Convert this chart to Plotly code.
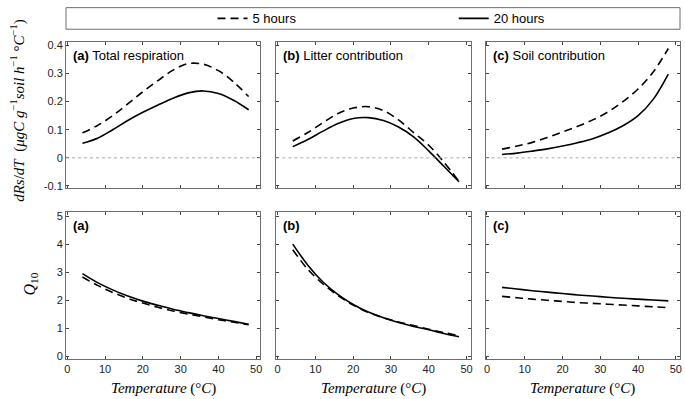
import plotly.graph_objects as go
from plotly.subplots import make_subplots

temperature = [4, 8, 12, 16, 20, 24, 28, 32, 36, 40, 44, 48]

# dRs/dT
total_5h = [0.089, 0.115, 0.150, 0.192, 0.235, 0.275, 0.312, 0.335, 0.333, 0.310, 0.270, 0.218]
total_20h = [0.052, 0.070, 0.100, 0.133, 0.162, 0.188, 0.212, 0.231, 0.238, 0.229, 0.205, 0.171]
litter_5h = [0.060, 0.090, 0.125, 0.158, 0.177, 0.182, 0.168, 0.135, 0.090, 0.045, -0.015, -0.084]
litter_20h = [0.040, 0.065, 0.095, 0.122, 0.140, 0.143, 0.133, 0.110, 0.075, 0.025, -0.030, -0.085]
soil_5h = [0.031, 0.042, 0.055, 0.072, 0.092, 0.112, 0.135, 0.163, 0.200, 0.245, 0.305, 0.389]
soil_20h = [0.012, 0.017, 0.024, 0.032, 0.042, 0.054, 0.068, 0.088, 0.114, 0.150, 0.208, 0.298]

# Q10
q10_total_5h = [2.83, 2.53, 2.28, 2.07, 1.90, 1.75, 1.62, 1.51, 1.41, 1.31, 1.22, 1.13]
q10_total_20h = [2.95, 2.63, 2.37, 2.15, 1.97, 1.82, 1.68, 1.56, 1.45, 1.35, 1.25, 1.15]
q10_litter_5h = [3.80, 3.10, 2.58, 2.17, 1.83, 1.57, 1.38, 1.23, 1.10, 0.97, 0.85, 0.74]
q10_litter_20h = [4.00, 3.25, 2.65, 2.20, 1.85, 1.58, 1.38, 1.21, 1.07, 0.95, 0.82, 0.70]
q10_soil_5h = [2.14, 2.09, 2.04, 2.00, 1.96, 1.92, 1.89, 1.86, 1.83, 1.80, 1.77, 1.74]
q10_soil_20h = [2.46, 2.40, 2.34, 2.29, 2.24, 2.19, 2.15, 2.11, 2.07, 2.04, 2.01, 1.98]

series_names = ["5 hours", "20 hours"]
top_titles = ["<b>(a)</b> Total respiration", "<b>(b)</b> Litter contribution", "<b>(c)</b> Soil contribution"]
bottom_titles = ["<b>(a)</b>", "<b>(b)</b>", "<b>(c)</b>"]
x_ticks = [0, 10, 20, 30, 40, 50]
top_ticks = [-0.1, 0, 0.1, 0.2, 0.3, 0.4]
bottom_ticks = [0, 1, 2, 3, 4, 5]

top_data = [(total_5h, total_20h), (litter_5h, litter_20h), (soil_5h, soil_20h)]
bottom_data = [(q10_total_5h, q10_total_20h), (q10_litter_5h, q10_litter_20h), (q10_soil_5h, q10_soil_20h)]

W, H = 685, 399
ml, mr, mt, mb = 66, 3, 36, 40
pw, ph = W - ml - mr, H - mt - mb

def px_x(p):
    return (p - ml) / pw

def px_y(p):
    return (H - mb - p) / ph

def clamp(v):
    return min(1.0, max(0.0, v))

fig = make_subplots(rows=2, cols=3)
FONT = "Liberation Sans, Arial, sans-serif"
SERIF = "Liberation Serif, Times New Roman, serif"
dashes = ["8px,5px", "solid"]
legends = ["legend", "legend2"]

for c in range(3):
    for r, data in ((1, top_data), (2, bottom_data)):
        for k in range(2):
            fig.add_trace(go.Scatter(
                x=temperature, y=data[c][k], mode="lines",
                line=dict(color="black", width=1.6, dash=dashes[k], shape="spline", smoothing=1.0),
                name=series_names[k], showlegend=(r == 1 and c == 0), legend=legends[k],
            ), row=r, col=c + 1)

xdom = [(clamp(px_x(66)), clamp(px_x(261))), (px_x(277), px_x(472)), (px_x(487), clamp(px_x(682)))]
ydom_top = (px_y(185), clamp(px_y(36)))
ydom_bot = (clamp(px_y(359)), px_y(209.3))

axis_common = dict(
    showline=True, mirror="ticks", linecolor="#6e6e6e", linewidth=1,
    ticks="inside", ticklen=3, tickcolor="#444", showgrid=False, zeroline=False,
    tickfont=dict(family=FONT, size=11, color="#222"),
)
for c in range(3):
    for r in (1, 2):
        fig.update_xaxes(domain=list(xdom[c]), range=[-0.35, 51.1], tickvals=x_ticks,
                         showticklabels=(r == 2), row=r, col=c + 1, **axis_common)
    fig.update_yaxes(domain=list(ydom_top), range=[-0.108, 0.412], tickvals=top_ticks,
                     ticktext=["-0.1", "0", "0.1", "0.2", "0.3", "0.4"],
                     showticklabels=(c == 0), row=1, col=c + 1, **axis_common)
    fig.update_yaxes(domain=list(ydom_bot), range=[-0.09, 5.14], tickvals=bottom_ticks,
                     showticklabels=(c == 0), row=2, col=c + 1, **axis_common)
    fig.add_hline(y=0, line=dict(color="#aaaaaa", width=1, dash="dot"), row=1, col=c + 1)

fig.add_shape(type="rect", xref="paper", yref="paper", x0=0, x1=1, y0=px_y(23), y1=px_y(1),
              line=dict(color="#6e6e6e", width=1, dash="solid"), fillcolor="rgba(0,0,0,0)")

annotations = []
for c in range(3):
    annotations.append(dict(x=xdom[c][0] + 0.008, y=ydom_top[1] - 0.012, xref="paper", yref="paper",
                            xanchor="left", yanchor="top", text=top_titles[c], showarrow=False,
                            font=dict(family=FONT, size=13, color="black")))
    annotations.append(dict(x=xdom[c][0] + 0.008, y=ydom_bot[1] - 0.012, xref="paper", yref="paper",
                            xanchor="left", yanchor="top", text=bottom_titles[c], showarrow=False,
                            font=dict(family=FONT, size=13, color="black")))
    annotations.append(dict(x=(xdom[c][0] + xdom[c][1]) / 2, y=px_y(389), xref="paper", yref="paper",
                            xanchor="center", yanchor="middle",
                            text="<i>Temperature</i> (°<i>C</i>)", showarrow=False,
                            font=dict(family=SERIF, size=15, color="black")))
annotations.append(dict(x=px_x(18), y=px_y(106), xref="paper", yref="paper", textangle=-90,
                        xanchor="center", yanchor="middle", showarrow=False,
                        text="<i>dRs</i>/<i>dT</i>  (<i>μgC g</i><sup>−1</sup><i>soil h</i><sup>−1</sup> °<i>C</i><sup>−1</sup>)",
                        font=dict(family=SERIF, size=15, color="black")))
annotations.append(dict(x=px_x(30), y=px_y(283), xref="paper", yref="paper", textangle=-90,
                        xanchor="center", yanchor="middle", showarrow=False,
                        text="<i>Q</i><sub>10</sub>",
                        font=dict(family=SERIF, size=16, color="black")))

legend_common = dict(orientation="h", y=px_y(12), xanchor="left", yanchor="middle",
                     bgcolor="rgba(0,0,0,0)", font=dict(family=FONT, size=13, color="black"))
fig.update_layout(
    width=W, height=H,
    margin=dict(l=ml, r=mr, t=mt, b=mb),
    paper_bgcolor="white", plot_bgcolor="white",
    annotations=annotations,
    legend=dict(x=px_x(213), **legend_common),
    legend2=dict(x=px_x(455), **legend_common),
)

fig.write_html("out.html", config={"displayModeBar": False},
               post_script="document.body.style.margin='0';")
